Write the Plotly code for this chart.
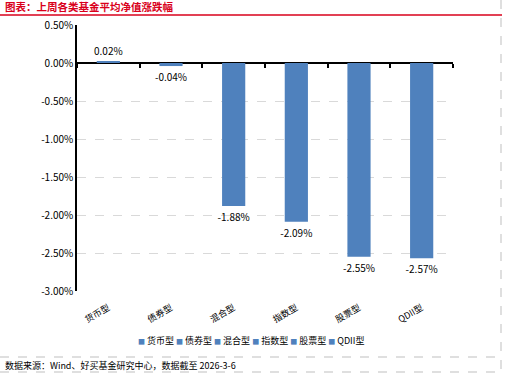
import plotly.graph_objects as go

categories = ["货币型", "债券型", "混合型", "指数型", "股票型", "QDII型"]
values = [0.02, -0.04, -1.88, -2.09, -2.55, -2.57]
value_labels = ["0.02%", "-0.04%", "-1.88%", "-2.09%", "-2.55%", "-2.57%"]
y_ticks = [0.5, 0.0, -0.5, -1.0, -1.5, -2.0, -2.5, -3.0]
y_tick_labels = ["0.50%", "0.00%", "-0.50%", "-1.00%", "-1.50%", "-2.00%", "-2.50%", "-3.00%"]
title_text = "图表：上周各类基金平均净值涨跌幅"
source_text = "数据来源：Wind、好买基金研究中心，数据截至 2026-3-6"

W, H = 505, 373
ML, MR, MT, MB = 77, 52, 25, 82
PW, PH = W - ML - MR, H - MT - MB
YMIN, YMAX = -3.0, 0.5

BLUE = "#4F81BD"
RED = "#D9001B"
FONT = "Noto Sans CJK SC"


def px_x(p):
    return (p - ML) / PW


def px_y(p):
    return (H - MB - p) / PH


fig = go.Figure()
for c, v, t in zip(categories, values, value_labels):
    fig.add_trace(go.Bar(
        x=[c], y=[v], text=[t], textposition="outside", constraintext="none",
        textfont=dict(size=10, color="#000000", family=FONT),
        marker=dict(color=BLUE, line=dict(width=0)),
        width=0.37, name=c, showlegend=False, cliponaxis=False,
    ))

# helper axis for boundary ticks along the zero line
fig.add_trace(go.Scatter(
    x=categories, y=[0] * len(categories), xaxis="x2", mode="markers",
    marker=dict(opacity=0), showlegend=False, hoverinfo="skip",
))

fig.update_layout(
    width=W, height=H,
    margin=dict(l=ML, r=MR, t=MT, b=MB),
    paper_bgcolor="white", plot_bgcolor="white",
    barmode="overlay",
    font=dict(family=FONT, size=10, color="#000000"),
    xaxis=dict(
        type="category", categoryorder="array", categoryarray=categories,
        range=[-0.5, len(categories) - 0.5],
        showline=False, showgrid=False, ticks="", zeroline=False,
        tickangle=-30, tickfont=dict(size=9, family=FONT),
        ticklabelstandoff=9,
    ),
    xaxis2=dict(
        type="category", categoryorder="array", categoryarray=categories,
        range=[-0.5, len(categories) - 0.5],
        overlaying="x", anchor="free", position=(0 - YMIN) / (YMAX - YMIN),
        showticklabels=False, showgrid=False, showline=False, zeroline=False,
        ticks="outside", tickson="boundaries", ticklen=4, tickwidth=1.5,
        tickcolor="#000000",
    ),
    yaxis=dict(
        range=[YMIN, YMAX], tickvals=y_ticks, ticktext=y_tick_labels,
        showline=True, linecolor="#000000", linewidth=1.5,
        showgrid=True, gridcolor="#D9D9D9", griddash="dash", gridwidth=1,
        zeroline=True, zerolinecolor="#000000", zerolinewidth=2,
        ticks="", tickfont=dict(size=10, family=FONT),
    ),
)

# title
fig.add_annotation(
    text="<b>" + title_text + "</b>", xref="paper", yref="paper",
    x=px_x(3), y=px_y(7), xanchor="left", yanchor="middle", showarrow=False,
    font=dict(size=10.5, color=RED, family=FONT),
)
# legend (built from the categories)
legend_text = " ".join(
    "<span style='color:%s;font-size:7px'>■</span> %s" % (BLUE, c) for c in categories
)
fig.add_annotation(
    text=legend_text, xref="paper", yref="paper",
    x=px_x(251), y=px_y(340), xanchor="center", yanchor="middle", showarrow=False,
    font=dict(size=9, color="#000000", family=FONT),
)
# source
fig.add_annotation(
    text=source_text, xref="paper", yref="paper",
    x=px_x(3), y=px_y(365), xanchor="left", yanchor="middle", showarrow=False,
    font=dict(size=9, color="#000000", family=FONT),
)

# decorative frame lines
fig.add_shape(type="line", xref="paper", yref="paper",
              x0=px_x(0), x1=px_x(502), y0=px_y(15), y1=px_y(15),
              line=dict(color=RED, width=1.5))
fig.add_shape(type="line", xref="paper", yref="paper",
              x0=px_x(501), x1=px_x(501), y0=px_y(0), y1=px_y(372),
              line=dict(color="#BFBFBF", width=1, dash="dash"))
fig.add_shape(type="line", xref="paper", yref="paper",
              x0=px_x(0), x1=px_x(501), y0=px_y(357), y1=px_y(357),
              line=dict(color="#BFBFBF", width=1, dash="dash"))
fig.add_shape(type="line", xref="paper", yref="paper",
              x0=px_x(0), x1=px_x(501), y0=px_y(372), y1=px_y(372),
              line=dict(color="#BFBFBF", width=1, dash="dash"))

fig.write_html(
    "out.html",
    config={"displayModeBar": False},
    post_script="document.body.style.margin='0';document.body.style.padding='0';",
)
